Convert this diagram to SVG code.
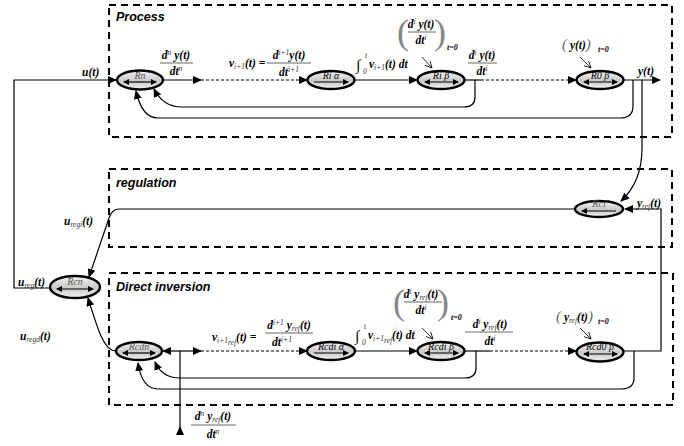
<svg xmlns="http://www.w3.org/2000/svg" width="684" height="446" viewBox="0 0 684 446">
<defs>
<linearGradient id="g" x1="0" y1="0" x2="0" y2="1">
<stop offset="0" stop-color="#f4f4f4"/>
<stop offset="0.55" stop-color="#c9c9c9"/>
<stop offset="1" stop-color="#f2f2f2"/>
</linearGradient>
<marker id="a" markerWidth="9" markerHeight="8" refX="8" refY="4" orient="auto" markerUnits="userSpaceOnUse">
<path d="M0,0 L9,4 L0,8 z" fill="#000"/>
</marker>
<marker id="s" markerWidth="6" markerHeight="6" refX="5" refY="3" orient="auto" markerUnits="userSpaceOnUse">
<path d="M0,0 L6,3 L0,6 z" fill="#000"/>
</marker>
<marker id="ss" markerWidth="6" markerHeight="6" refX="1" refY="3" orient="auto" markerUnits="userSpaceOnUse">
<path d="M6,0 L0,3 L6,6 z" fill="#000"/>
</marker>
<marker id="o" markerWidth="8" markerHeight="8" refX="7" refY="4" orient="auto" markerUnits="userSpaceOnUse">
<path d="M0,0.5 L7,4 L0,7.5" fill="none" stroke="#000" stroke-width="0.8"/>
</marker>
</defs>
<style>
.box{fill:none;stroke:#000;stroke-width:2;stroke-dasharray:7,5}
.ttl{font-family:"Liberation Sans",Arial,sans-serif;font-style:italic;font-weight:bold;font-size:12.5px;fill:#000}
.el{fill:url(#g);stroke:#000;stroke-width:2.4}
.in{stroke:#000;stroke-width:1.2;fill:none}
.nl{font-family:"Liberation Serif",serif;font-style:italic;font-size:10px;fill:#555;text-anchor:middle}
.w{fill:none;stroke:#000;stroke-width:1.2}
.d{fill:none;stroke:#000;stroke-width:1.2;stroke-dasharray:3,2}
.t{fill:none;stroke:#000;stroke-width:0.8}
.m{font-family:"Liberation Serif",serif;font-style:italic;font-weight:bold;font-size:11.5px;fill:#000}
.c{text-anchor:middle}
.sb{font-size:7.5px;font-weight:normal;fill:#333}
.fl{stroke:#555;stroke-width:0.9}
.par{font-family:"Liberation Serif",serif;font-size:36px;fill:#888;font-weight:normal}
.t0{font-family:"Liberation Serif",serif;font-style:italic;font-size:8px;font-weight:bold;fill:#000}
</style>

<rect class="box" x="109" y="5" width="563" height="132"/>
<rect class="box" x="109" y="169" width="563" height="78"/>
<rect class="box" x="109" y="273" width="564" height="132"/>
<text class="ttl" x="116" y="21">Process</text>
<text class="ttl" x="116" y="187">regulation</text>
<text class="ttl" x="116" y="291">Direct inversion</text>

<g id="connectors">
<path class="w" d="M50,288 H14 V80 H116" marker-end="url(#a)"/>
<path class="w" d="M164,80 H201" marker-end="url(#a)"/>
<path class="d" d="M201,80 H307" marker-end="url(#a)"/>
<path class="w" d="M355,80 H417" marker-end="url(#a)"/>
<path class="w" d="M465,80 H481"/>
<path class="d" d="M481,80 H576" marker-end="url(#a)"/>
<path class="w" d="M624,80 H660" marker-end="url(#a)"/>
<path class="w" d="M642,80 V148 Q642,182 621,201" marker-end="url(#a)"/>
<path class="w" d="M475,80 V97 Q475,107 464,107 H182 Q163,107 154,89" marker-end="url(#a)"/>
<path class="w" d="M633,80 V106 Q633,118 620,118 H158 Q142,118 136,91" marker-end="url(#a)"/>
<path class="w" d="M624,351 H661 V209 H625" marker-end="url(#a)"/>
<path class="w" d="M575,209 H119 Q112,209 109,218 L89,277" marker-end="url(#a)"/>
<path class="w" d="M116,351 C104,351 98,330 88,298" marker-end="url(#a)"/>
<path class="w" d="M180,351 H163" marker-end="url(#a)"/>
<path class="w" d="M180,351 H201" marker-end="url(#a)"/>
<path class="w" d="M180,351 V433"/>
<polygon points="176,435 184,435 180,426" fill="#000"/>
<path class="d" d="M201,351 H307" marker-end="url(#a)"/>
<path class="w" d="M355,351 H417" marker-end="url(#a)"/>
<path class="w" d="M465,351 H490"/>
<path class="d" d="M490,351 H576" marker-end="url(#a)"/>
<path class="w" d="M476,351 V368 Q476,378 465,378 H180 Q162,378 155,362" marker-end="url(#a)"/>
<path class="w" d="M634,351 V378 Q634,389 621,389 H158 Q142,389 138,363" marker-end="url(#a)"/>
<path class="t" d="M422,57 L432,68" marker-end="url(#o)"/>
<path class="t" d="M580,57 L591,68" marker-end="url(#o)"/>
<path class="t" d="M422,328 L433,339" marker-end="url(#o)"/>
<path class="t" d="M580,328 L591,339" marker-end="url(#o)"/>
</g>

<g id="Rn">
<ellipse class="el" cx="140" cy="80" rx="23" ry="9.5"/>
<text class="nl" x="140" y="79">Rn</text>
<path class="in" d="M124,82 H156" marker-start="url(#ss)" marker-end="url(#s)"/>
</g>
<g id="Ri_alpha">
<ellipse class="el" cx="331" cy="80" rx="23.5" ry="9"/>
<text class="nl" x="331" y="79" style="fill:#000">Ri α</text>
<path class="in" d="M314,82 H348" marker-end="url(#s)"/>
</g>
<g id="Ri_beta">
<ellipse class="el" cx="441" cy="80" rx="23.5" ry="9"/>
<text class="nl" x="441" y="79" style="fill:#000">Ri β</text>
<path class="in" d="M425,82 H458" marker-start="url(#ss)" marker-end="url(#s)"/>
</g>
<g id="R0_beta">
<ellipse class="el" cx="600" cy="80" rx="23.5" ry="9"/>
<text class="nl" x="600" y="79" style="fill:#000">R0 β</text>
<path class="in" d="M584,82 H617" marker-start="url(#ss)" marker-end="url(#s)"/>
</g>
<g id="Rci">
<ellipse class="el" cx="599" cy="209" rx="24" ry="8"/>
<text class="nl" x="599" y="207">Rci</text>
<path class="in" d="M616,211 H582" marker-end="url(#s)"/>
</g>
<g id="Rcn">
<ellipse class="el" cx="75" cy="287" rx="25" ry="11"/>
<text class="nl" x="75" y="285">Rcn</text>
<path class="in" d="M57,289 H93" marker-start="url(#ss)" marker-end="url(#s)"/>
</g>
<g id="Rcdn">
<ellipse class="el" cx="139" cy="351" rx="23" ry="9"/>
<text class="nl" x="139" y="350">Rcdn</text>
<path class="in" d="M123,353 H155" marker-start="url(#ss)" marker-end="url(#s)"/>
</g>
<g id="Rcdi_alpha">
<ellipse class="el" cx="331" cy="351" rx="24" ry="9"/>
<text class="nl" x="331" y="350" style="fill:#000">Rcdi α</text>
<path class="in" d="M314,353 H348" marker-end="url(#s)"/>
</g>
<g id="Rcdi_beta">
<ellipse class="el" cx="441" cy="351" rx="23.5" ry="9"/>
<text class="nl" x="441" y="350" style="fill:#000">Rcdi β</text>
<path class="in" d="M425,353 H458" marker-start="url(#ss)" marker-end="url(#s)"/>
</g>
<g id="Rcd0_beta">
<ellipse class="el" cx="600" cy="352" rx="23.5" ry="9.5"/>
<text class="nl" x="600" y="350" style="fill:#000">Rcd0 β</text>
<path class="in" d="M584,354 H617" marker-start="url(#ss)" marker-end="url(#s)"/>
</g>

<g id="labels">
<text class="m" x="82" y="76">u(t)</text>
<text class="m c" x="176" y="59">d<tspan class="sb" dy="-4">n</tspan><tspan dy="4"> y(t)</tspan></text>
<line class="fl" x1="160" y1="63" x2="193" y2="63"/>
<text class="m c" x="176" y="75">dt<tspan class="sb" dy="-4">n</tspan></text>

<text class="m" x="229" y="67">v<tspan class="sb" dy="2">i+1</tspan><tspan dy="-2">(t) =</tspan></text>
<text class="m c" x="289" y="59">d<tspan class="sb" dy="-4">i+1</tspan><tspan dy="4">y(t)</tspan></text>
<line class="fl" x1="267" y1="63" x2="311" y2="63"/>
<text class="m c" x="289" y="76">dt<tspan class="sb" dy="-4">i+1</tspan></text>

<text class="m" x="356" y="70" style="font-size:15px;font-weight:normal">∫</text>
<text class="m sb" x="363" y="74">0</text>
<text class="m sb" x="365" y="58">t</text>
<text class="m" x="369" y="68">v<tspan class="sb" dy="2">i+1</tspan><tspan dy="-2">(t) dt</tspan></text>

<text class="par" x="397" y="44">(</text>
<text class="par" x="434" y="44">)</text>
<text class="m c" x="421" y="28">d<tspan class="sb" dy="-4">i</tspan><tspan dy="4"> y(t)</tspan></text>
<line class="fl" x1="408" y1="32" x2="436" y2="32"/>
<text class="m c" x="421" y="44">dt<tspan class="sb" dy="-4">i</tspan></text>
<text class="t0" x="447" y="50">t=0</text>

<text class="m c" x="482" y="59">d<tspan class="sb" dy="-4">i</tspan><tspan dy="4"> y(t)</tspan></text>
<line class="fl" x1="468" y1="63" x2="497" y2="63"/>
<text class="m c" x="482" y="75">dt<tspan class="sb" dy="-4">i</tspan></text>

<text class="m" x="562" y="49"><tspan style="font-weight:normal;font-size:15px;fill:#666">(</tspan> y(t)<tspan style="font-weight:normal;font-size:15px;fill:#666">)</tspan></text>
<text class="t0" x="598" y="52">t=0</text>

<text class="m" x="638" y="75">y(t)</text>

<text class="m" x="64" y="225">u<tspan class="sb" dy="2">regi</tspan><tspan dy="-2">(t)</tspan></text>
<text class="m" x="637" y="207">y<tspan class="sb" dy="2">ref</tspan><tspan dy="-2">(t)</tspan></text>
<text class="m" x="18" y="286">u<tspan class="sb" dy="2">reg</tspan><tspan dy="-2">(t)</tspan></text>
<text class="m" x="20" y="340">u<tspan class="sb" dy="2">regd</tspan><tspan dy="-2">(t)</tspan></text>

<text class="m" x="212" y="341">v<tspan class="sb" dy="2">i+1</tspan><tspan class="sb" dy="2">ref</tspan><tspan dy="-4">(t) =</tspan></text>
<text class="m c" x="289" y="329">d<tspan class="sb" dy="-4">i+1</tspan><tspan dy="4"> y</tspan><tspan class="sb" dy="2">ref</tspan><tspan dy="-2">(t)</tspan></text>
<line class="fl" x1="265" y1="333" x2="313" y2="333"/>
<text class="m c" x="282" y="346">dt<tspan class="sb" dy="-4">i+1</tspan></text>

<text class="m" x="355" y="341" style="font-size:15px;font-weight:normal">∫</text>
<text class="m sb" x="362" y="345">0</text>
<text class="m sb" x="364" y="329">t</text>
<text class="m" x="368" y="339">v<tspan class="sb" dy="2">i+1</tspan><tspan class="sb" dy="2">ref</tspan><tspan dy="-4">(t) dt</tspan></text>

<text class="par" x="393" y="314">(</text>
<text class="par" x="437" y="314">)</text>
<text class="m c" x="421" y="298">d<tspan class="sb" dy="-4">i</tspan><tspan dy="4"> y</tspan><tspan class="sb" dy="2">ref</tspan><tspan dy="-2">(t)</tspan></text>
<line class="fl" x1="404" y1="302" x2="442" y2="302"/>
<text class="m c" x="421" y="314">dt<tspan class="sb" dy="-4">i</tspan></text>
<text class="t0" x="451" y="320">t=0</text>

<text class="m c" x="490" y="328">d<tspan class="sb" dy="-4">i</tspan><tspan dy="4"> y</tspan><tspan class="sb" dy="2">ref</tspan><tspan dy="-2">(t)</tspan></text>
<line class="fl" x1="465" y1="332" x2="513" y2="332"/>
<text class="m c" x="490" y="345">dt<tspan class="sb" dy="-4">i</tspan></text>

<text class="m" x="556" y="321"><tspan style="font-weight:normal;font-size:15px;fill:#666">(</tspan> y<tspan class="sb" dy="2">ref</tspan><tspan dy="-2">(t)</tspan><tspan style="font-weight:normal;font-size:15px;fill:#666">)</tspan></text>
<text class="t0" x="598" y="324">t=0</text>

<text class="m c" x="213" y="420">d<tspan class="sb" dy="-4">n</tspan><tspan dy="4"> y</tspan><tspan class="sb" dy="2">ref</tspan><tspan dy="-2">(t)</tspan></text>
<line class="fl" x1="191" y1="425" x2="236" y2="425"/>
<text class="m c" x="213" y="438">dt<tspan class="sb" dy="-4">n</tspan></text>
</g>
</svg>
